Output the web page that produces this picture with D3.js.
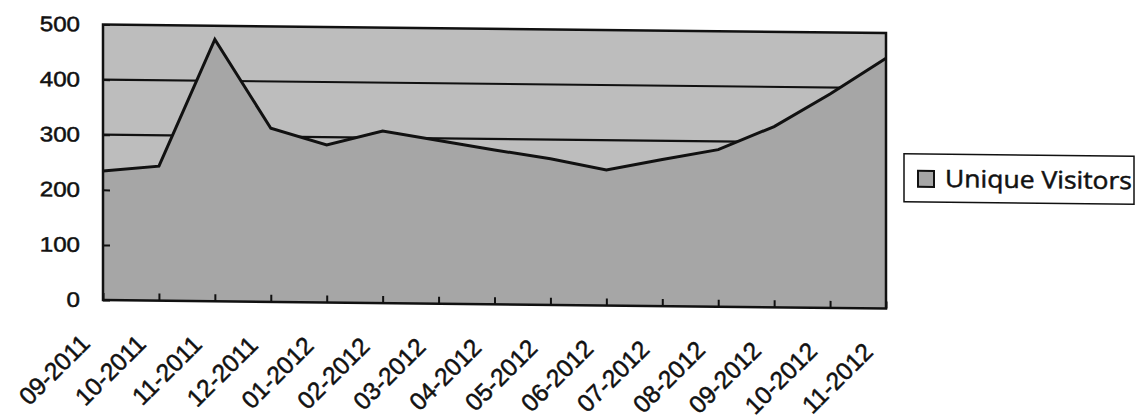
<!DOCTYPE html>
<html>
<head>
<meta charset="utf-8">
<script src="https://cdn.jsdelivr.net/npm/d3@7"></script>
<style>
  html, body { margin: 0; padding: 0; background: #fff; }
  svg { display: block; font-family: "Open Sans", "Noto Sans", sans-serif; }
</style>
</head>
<body>
<svg id="chart"></svg>
<script>
// Monthly unique visitors
const months = ['09-2011', '10-2011', '11-2011', '12-2011', '01-2012', '02-2012', '03-2012',
  '04-2012', '05-2012', '06-2012', '07-2012', '08-2012', '09-2012', '10-2012', '11-2012'];
const visitors = [234, 244, 475, 315, 286, 312, 296, 280, 265, 246, 266, 285, 328, 388, 454];
const yTicks = [0, 100, 200, 300, 400, 500];
const seriesName = 'Unique Visitors';

const width = 1135;
const height = 420;
const plot = { left: 103, right: 886, top: 24.5, bottom: 300 };

const svg = d3.select('#chart')
  .attr('width', width)
  .attr('height', height);

// the scan is a little skewed, so the whole chart leans slightly
const root = svg.append('g')
  .attr('transform', `translate(${plot.left},0) skewY(0.62) translate(${-plot.left},0)`);

const xScale = d3.scalePoint()
  .domain(months)
  .range([plot.left, plot.right]);

const yScale = d3.scaleLinear()
  .domain([0, 500])
  .range([plot.bottom, plot.top]);

const data = months.map((m, i) => ({ month: m, value: visitors[i] }));

// plot background
root.append('rect')
  .attr('x', plot.left)
  .attr('y', plot.top)
  .attr('width', plot.right - plot.left)
  .attr('height', plot.bottom - plot.top)
  .attr('fill', '#bdbdbd');

// gridlines sit under the area
root.append('g')
  .selectAll('line')
  .data(yTicks.filter(t => t > 0 && t < 500))
  .join('line')
  .attr('x1', plot.left)
  .attr('x2', plot.right)
  .attr('y1', d => yScale(d))
  .attr('y2', d => yScale(d))
  .attr('stroke', '#111')
  .attr('stroke-width', 2.2);

const area = d3.area()
  .x(d => xScale(d.month))
  .y0(yScale(0))
  .y1(d => yScale(d.value));

const line = d3.line()
  .x(d => xScale(d.month))
  .y(d => yScale(d.value));

root.append('path')
  .datum(data)
  .attr('d', area)
  .attr('fill', '#a6a6a6');

root.append('path')
  .datum(data)
  .attr('d', line)
  .attr('fill', 'none')
  .attr('stroke', '#111')
  .attr('stroke-width', 3)
  .attr('stroke-linejoin', 'miter');

// plot border
root.append('rect')
  .attr('x', plot.left)
  .attr('y', plot.top)
  .attr('width', plot.right - plot.left)
  .attr('height', plot.bottom - plot.top)
  .attr('fill', 'none')
  .attr('stroke', '#111')
  .attr('stroke-width', 2.5);

// scanned text looks a bit heavier than a regular weight
const inkText = sel => sel
  .attr('fill', '#111')
  .attr('stroke', '#111')
  .attr('stroke-width', 0.5)
  .attr('font-weight', 400);

// Y axis, ticks pointing into the plot
const yAxis = root.append('g')
  .attr('transform', `translate(${plot.left},0)`)
  .call(d3.axisLeft(yScale).tickValues(yTicks).tickSizeInner(-7).tickSizeOuter(0).tickPadding(23));
yAxis.select('.domain').remove();
yAxis.selectAll('line').attr('stroke', '#111').attr('stroke-width', 2);
yAxis.selectAll('text')
  .attr('x', 0)
  .attr('transform', 'translate(-23,0) scale(1.15,1)')
  .attr('font-size', 21)
  .call(inkText);

// X axis, ticks pointing up, labels rotated
const xAxis = root.append('g')
  .attr('transform', `translate(0,${plot.bottom})`)
  .call(d3.axisBottom(xScale).tickSizeInner(-7).tickSizeOuter(0));
xAxis.select('.domain').remove();
xAxis.selectAll('line').attr('stroke', '#111').attr('stroke-width', 2);
xAxis.selectAll('text')
  .attr('x', 0)
  .attr('y', 0)
  .attr('dy', 0)
  .attr('text-anchor', 'end')
  .attr('transform', 'translate(-12,45) rotate(-45)')
  .attr('font-size', 24.5)
  .call(inkText);

// legend
const legend = root.append('g').attr('transform', 'translate(904,145)');
legend.append('rect')
  .attr('width', 230)
  .attr('height', 48)
  .attr('fill', '#fff')
  .attr('stroke', '#111')
  .attr('stroke-width', 1.5);
legend.append('rect')
  .attr('x', 14)
  .attr('y', 17)
  .attr('width', 16)
  .attr('height', 16)
  .attr('fill', '#a6a6a6')
  .attr('stroke', '#111')
  .attr('stroke-width', 2);
legend.append('text')
  .attr('x', 41)
  .attr('y', 33)
  .attr('font-size', 24)
  .attr('textLength', 187)
  .attr('lengthAdjust', 'spacingAndGlyphs')
  .call(inkText)
  .text(seriesName);
</script>
</body>
</html>
